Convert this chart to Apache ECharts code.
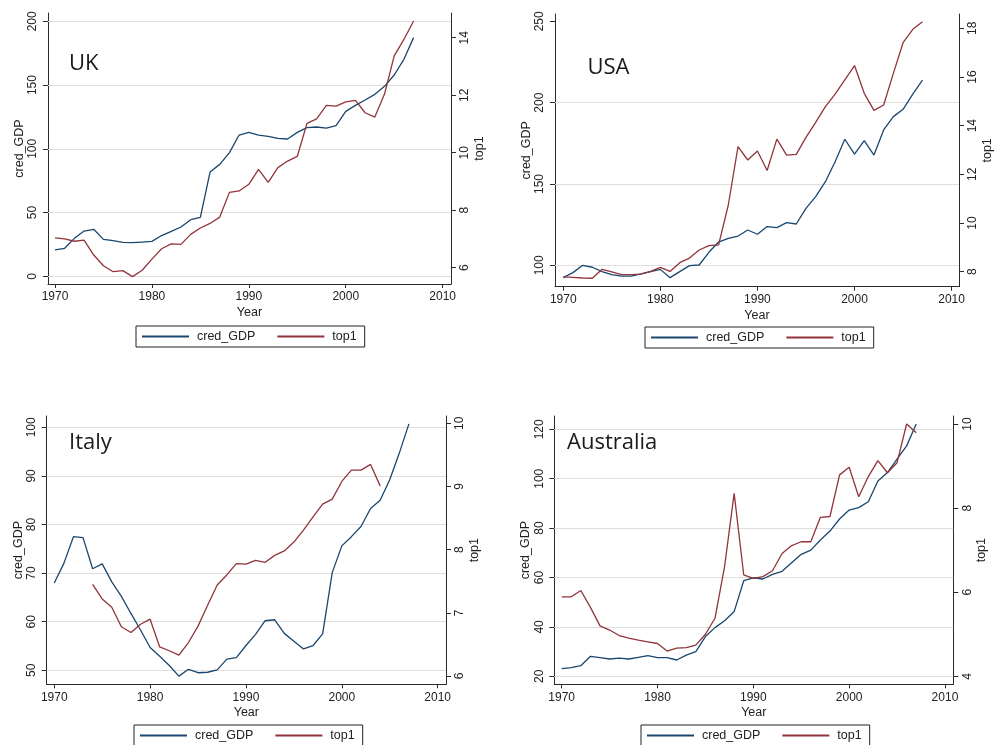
<!DOCTYPE html>
<html>
<head>
<meta charset="utf-8">
<script src="https://cdn.jsdelivr.net/npm/echarts@6/dist/echarts.min.js"></script>
<style>html,body{margin:0;padding:0;background:#fff}#c{width:995px;height:745px}</style>
</head>
<body>
<div id="c"></div>
<script>
// ---------- DATA ----------
const years = [1970,1971,1972,1973,1974,1975,1976,1977,1978,1979,1980,1981,1982,1983,1984,1985,1986,1987,1988,1989,1990,1991,1992,1993,1994,1995,1996,1997,1998,1999,2000,2001,2002,2003,2004,2005,2006,2007];
const xTicks = [1970,1980,1990,2000,2010];

const ukCred = [20.7,22,29.8,35.5,36.9,29,28,26.7,26.4,26.9,27.4,32,35.3,38.7,44.4,46.3,81.8,87.8,97,110.8,112.9,110.8,109.8,108.2,107.7,112.9,116.6,117.1,116.3,118.1,129.4,134.1,138.3,142.7,149,157.9,170.2,187.2];
const ukTop1 = [7.04,7.0,6.92,6.96,6.44,6.07,5.86,5.9,5.69,5.91,6.3,6.66,6.83,6.81,7.16,7.38,7.54,7.76,8.62,8.67,8.9,9.42,8.97,9.48,9.71,9.87,11.02,11.18,11.65,11.62,11.77,11.82,11.39,11.24,12.04,13.37,13.94,14.58];
const ukLeftTicks = [0,50,100,150,200];
const ukRightTicks = [6,8,10,12,14];
const ukGrid = [0,50,100,150,200];

const usCred = [92.4,95.5,100,98.8,96.1,94.3,93.4,93.4,94.7,96.1,97.5,92.4,96.1,99.8,100.2,108,114.3,116.6,118,121.7,119.1,123.8,123.2,126.2,125.4,135,142.2,151.4,163.7,177.5,168.4,176.6,167.8,183.2,191.4,195.9,205.3,213.9];
const usTop1 = [7.79,7.77,7.74,7.73,8.1,7.99,7.88,7.88,7.9,8.01,8.18,8.01,8.37,8.56,8.89,9.07,9.1,10.74,13.14,12.59,12.96,12.16,13.45,12.79,12.82,13.52,14.14,14.78,15.3,15.88,16.47,15.33,14.63,14.85,16.15,17.41,17.96,18.27];
const usLeftTicks = [100,150,200,250];
const usRightTicks = [8,10,12,14,16,18];
const usGrid = [100,150,200];

const itCred = [67.97,72.0,77.5,77.3,70.9,71.9,68.2,65.2,61.7,58.3,54.7,52.9,51.0,48.8,50.2,49.5,49.6,50.1,52.3,52.6,55.1,57.4,60.2,60.4,57.6,56,54.4,55.1,57.5,70.1,75.6,77.5,79.6,83.3,85,89.2,94.7,100.7];
const itTop1 = [null,null,null,null,7.45,7.22,7.09,6.78,6.69,6.82,6.9,6.46,6.4,6.33,6.53,6.79,7.12,7.44,7.6,7.78,7.77,7.83,7.8,7.91,7.98,8.12,8.31,8.52,8.72,8.8,9.08,9.26,9.26,9.35,9.01,null,null,null];
const itLeftTicks = [50,60,70,80,90,100];
const itRightTicks = [6,7,8,9,10];
const itGrid = [50,60,70,80,90,100];

const auCred = [23.1,23.5,24.3,28.1,27.6,27.0,27.4,27.0,27.7,28.4,27.6,27.6,26.6,28.6,30,36.1,39.7,42.5,46.2,58.7,59.9,59.4,61.3,62.5,66,69.4,71.1,75.2,78.8,83.7,87.3,88.3,90.7,99.1,102.5,107.9,113.3,122.2];
const auTop1 = [5.89,5.89,6.04,5.64,5.2,5.1,4.97,4.91,4.86,4.82,4.78,4.6,4.67,4.68,4.74,5.0,5.38,6.61,8.35,6.41,6.33,6.37,6.51,6.92,7.11,7.2,7.2,7.78,7.8,8.79,8.97,8.27,8.75,9.13,8.84,9.08,10.0,9.79];
const auLeftTicks = [20,40,60,80,100,120];
const auRightTicks = [4,6,8,10];
const auGrid = [20,40,60,80,100,120];

const seriesNames = ['cred_GDP','top1'];
const countries = ['UK','USA','Italy','Australia'];

// ---------- LAYOUT ----------
const W = 995, H = 745;
const FONT = "'Liberation Sans', Arial, Helvetica, sans-serif";
const BLUE = '#1a476f', RED = '#90353b', AX = '#2a2a2a', GRIDC = '#dedede', TXT = '#222';

const panels = [
  {name:countries[0], cred:ukCred, top1:ukTop1, lt:ukLeftTicks, rt:ukRightTicks, gl:ukGrid,
   box:[48,13,451,284], x:[1969.28,2010.86], yl:[-6.0,206.5], yr:[5.433,14.86],
   label:[69,64], legend:[136,326]},
  {name:countries[1], cred:usCred, top1:usTop1, lt:usLeftTicks, rt:usRightTicks, gl:usGrid,
   box:[555,14,961.7,286.7], x:[1969.15,2010.76], yl:[86.85,254.5], yr:[7.383,18.59],
   label:[587.5,68], legend:[645,327]},
  {name:countries[2], cred:itCred, top1:itTop1, lt:itLeftTicks, rt:itRightTicks, gl:itGrid,
   box:[46.7,416,446,684.3], x:[1969.21,2010.87], yl:[47.12,102.33], yr:[5.869,10.116],
   label:[69,443], legend:[134,725]},
  {name:countries[3], cred:auCred, top1:auTop1, lt:auLeftTicks, rt:auRightTicks, gl:auGrid,
   box:[554.3,416,953.3,684.3], x:[1969.23,2010.87], yl:[16.76,125.4], yr:[3.81,10.19],
   label:[567,442.5], legend:[641,725]}
];

const option = {
  backgroundColor:'#fff',
  animation:false,
  textStyle:{fontFamily:FONT},
  grid:[], xAxis:[], yAxis:[], series:[], legend:[], graphic:[]
};

const plain = v => String(v);

panels.forEach((p,i)=>{
  const [x0,y0,x1,y1] = p.box;
  option.grid.push({left:x0, top:y0, width:x1-x0, height:y1-y0, containLabel:false});
  option.xAxis.push({
    type:'value', gridIndex:i, min:p.x[0], max:p.x[1],
    name:'Year', nameLocation:'middle', nameGap:22,
    nameTextStyle:{color:TXT, fontSize:12.5, fontFamily:FONT},
    axisLine:{show:true, onZero:false, lineStyle:{color:AX, width:1}},
    axisTick:{show:true, length:4, customValues:xTicks, lineStyle:{color:AX}},
    axisLabel:{customValues:xTicks, formatter:plain, color:TXT, fontSize:12, margin:7, fontFamily:FONT},
    splitLine:{show:false}
  });
  option.yAxis.push({
    type:'value', gridIndex:i, position:'left', min:p.yl[0], max:p.yl[1],
    name:seriesNames[0], nameLocation:'middle', nameGap:21,
    nameTextStyle:{color:TXT, fontSize:12.5, fontFamily:FONT},
    axisLine:{show:true, onZero:false, lineStyle:{color:AX, width:1}},
    axisTick:{show:true, length:5, customValues:p.lt, lineStyle:{color:AX}},
    axisLabel:{customValues:p.lt, formatter:plain, rotate:90, color:TXT, fontSize:12, margin:9, fontFamily:FONT},
    splitLine:{show:false}
  });
  option.yAxis.push({
    type:'value', gridIndex:i, position:'right', min:p.yr[0], max:p.yr[1],
    name:seriesNames[1], nameLocation:'middle', nameGap:22,
    nameTextStyle:{color:TXT, fontSize:12.5, fontFamily:FONT},
    axisLine:{show:true, onZero:false, lineStyle:{color:AX, width:1}},
    axisTick:{show:true, length:5, customValues:p.rt, lineStyle:{color:AX}},
    axisLabel:{customValues:p.rt, formatter:plain, rotate:90, color:TXT, fontSize:12, margin:8, fontFamily:FONT},
    splitLine:{show:false}
  });
  option.series.push({
    name:seriesNames[0], type:'line', xAxisIndex:i, yAxisIndex:2*i,
    data:years.map((y,k)=>[y,p.cred[k]]), symbol:'none', silent:true,
    lineStyle:{color:BLUE, width:1.3}, itemStyle:{color:BLUE}, z:3,
    markLine:{silent:true, symbol:'none', z:1, label:{show:false},
      lineStyle:{color:GRIDC, width:1, type:'solid'},
      data:p.gl.map(v=>({yAxis:v}))}
  });
  option.series.push({
    name:seriesNames[1], type:'line', xAxisIndex:i, yAxisIndex:2*i+1,
    data:years.map((y,k)=>[y,p.top1[k]]), symbol:'none', silent:true, connectNulls:false,
    lineStyle:{color:RED, width:1.3}, itemStyle:{color:RED}, z:3
  });
  option.legend.push({
    data:seriesNames, left:p.legend[0], top:p.legend[1], orient:'horizontal',
    borderColor:'#222', borderWidth:1, padding:[4,8,4,5], itemGap:21,
    itemWidth:47, itemHeight:14, selectedMode:false,
    itemStyle:{opacity:0},
    textStyle:{color:TXT, fontSize:12.5, fontFamily:FONT, padding:[0,0,0,3]}
  });
  option.graphic.push({
    type:'text', left:p.label[0], top:p.label[1]-11, silent:true,
    style:{text:p.name, fill:'#1a1a1a', font:"22px 'Open Sans', 'Noto Sans', sans-serif"}
  });
});

const chart = echarts.init(document.getElementById('c'), null, {renderer:'canvas', width:W, height:H});
chart.setOption(option);
</script>
</body>
</html>
